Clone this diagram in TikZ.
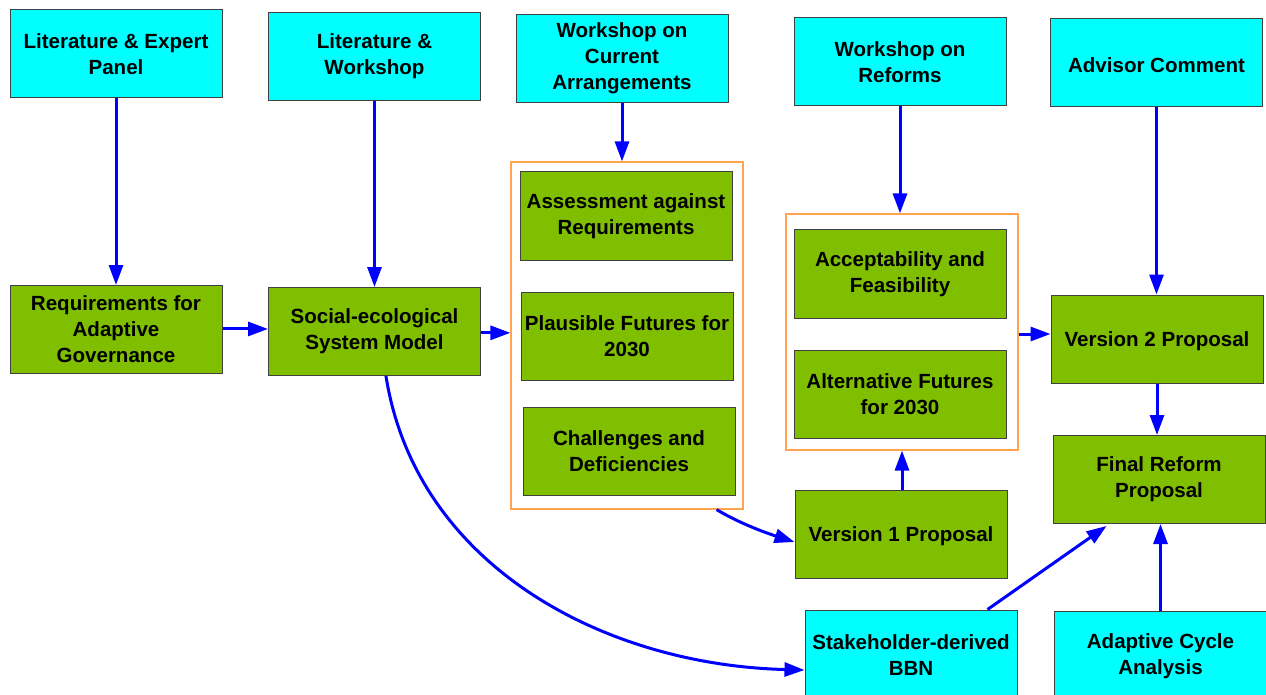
\documentclass[tikz,border=0pt]{standalone}
\usepackage{fontspec}
\setmainfont{Liberation Sans}
\usetikzlibrary{arrows.meta}
\definecolor{boxcyan}{RGB}{0,255,255}
\definecolor{boxgreen}{RGB}{127,191,0}
\definecolor{frameorange}{RGB}{255,165,80}
\definecolor{arrowblue}{RGB}{0,0,255}
\tikzset{
  base/.style={rectangle, draw=black!75, line width=0.75pt, minimum width=159pt, minimum height=66pt, inner sep=0pt, align=center, font=\fontsize{15.4pt}{19.5pt}\selectfont\bfseries, execute at begin node={\rule{0pt}{15pt}}},
  src/.style={base, fill=boxcyan},
  proc/.style={base, fill=boxgreen},
  frame/.style={rectangle, draw=frameorange, line width=0.9pt, inner sep=0pt},
  flow/.style={draw=arrowblue, line width=2.25pt, -{Triangle[length=15pt,width=10.5pt]}}
}
\begin{document}
\begin{tikzpicture}[x=0.75pt,y=-0.75pt]
\useasboundingbox (0,0) rectangle (1266,695);
% containers
\node[frame, minimum width=174pt, minimum height=260.25pt] (c1) at (627,335.5) {};
\node[frame, minimum width=174pt, minimum height=177pt] (c2) at (902,332) {};
% top sources
\node[src] (lit1) at (116,54) {Literature \& Expert\\Panel};
\node[src] (lit2) at (374.5,56.5) {Literature \&\\Workshop};
\node[src] (ws1) at (622,58.5) {Workshop on\\Current\\Arrangements};
\node[src] (ws2) at (900,62) {Workshop on\\Reforms};
\node[src] (adv) at (1156.5,63) {Advisor Comment};
% process boxes
\node[proc] (req) at (116,329.5) {Requirements for\\Adaptive\\Governance};
\node[proc] (ses) at (374.5,331.5) {Social-ecological\\System Model};
\node[proc] (ass) at (626,216) {Assessment against\\Requirements};
\node[proc] (pf) at (627,336) {Plausible Futures for\\2030};
\node[proc] (chd) at (629,451) {Challenges and\\Deficiencies};
\node[proc] (acc) at (900,274) {Acceptability and\\Feasibility};
\node[proc] (alt) at (900,394) {Alternative Futures\\for 2030};
\node[proc] (v1) at (901,534) {Version 1 Proposal};
\node[proc] (v2) at (1157,339) {Version 2 Proposal};
\node[proc] (fin) at (1159,479.5) {Final Reform\\Proposal};
% bottom sources
\node[src, minimum height=67.5pt] (bbn) at (911,655) {Stakeholder-derived\\BBN};
\node[src, minimum height=67.5pt] (aca) at (1160.5,656) {Adaptive Cycle\\Analysis};
% connectors
\draw[flow] (lit1.south) -- (req.north);
\draw[flow] (lit2.south) -- (ses.north);
\draw[flow] (ws1.south) -- (ws1.south |- c1.north);
\draw[flow] (ws2.south) -- (ws2.south |- c2.north);
\draw[flow] (adv.south) -- (adv.south |- v2.north);
\draw[flow] ([yshift=0.4pt]req.east) -- ([yshift=0.4pt]req.east -| ses.west);
\draw[flow] ([yshift=-1pt]ses.east) -- ([yshift=-1pt]ses.east -| c1.west);
\draw[flow] ([yshift=-1.5pt]c2.east) -- ([yshift=-1.5pt]c2.east -| v2.west);
\draw[flow] (v2.south) -- (v2.south |- fin.north);
\draw[flow] ([xshift=0.75pt]v1.north) -- ([xshift=0.75pt]v1.north |- c2.south);
\draw[flow] (aca.north) -- (aca.north |- fin.south);
\draw[flow] ([xshift=-22.5pt]bbn.north east) -- ([xshift=40.5pt,yshift=-1.5pt]fin.south west);
\draw[flow] ([xshift=-20.25pt]c1.south east) .. controls +(25,15) and +(-25,-8) .. ([yshift=-6pt]v1.west);
\draw[flow] ([xshift=8.6pt]ses.south) .. controls +(30,190) and +(-200,-5) .. ([yshift=-11.25pt]bbn.west);
\end{tikzpicture}
\end{document}
